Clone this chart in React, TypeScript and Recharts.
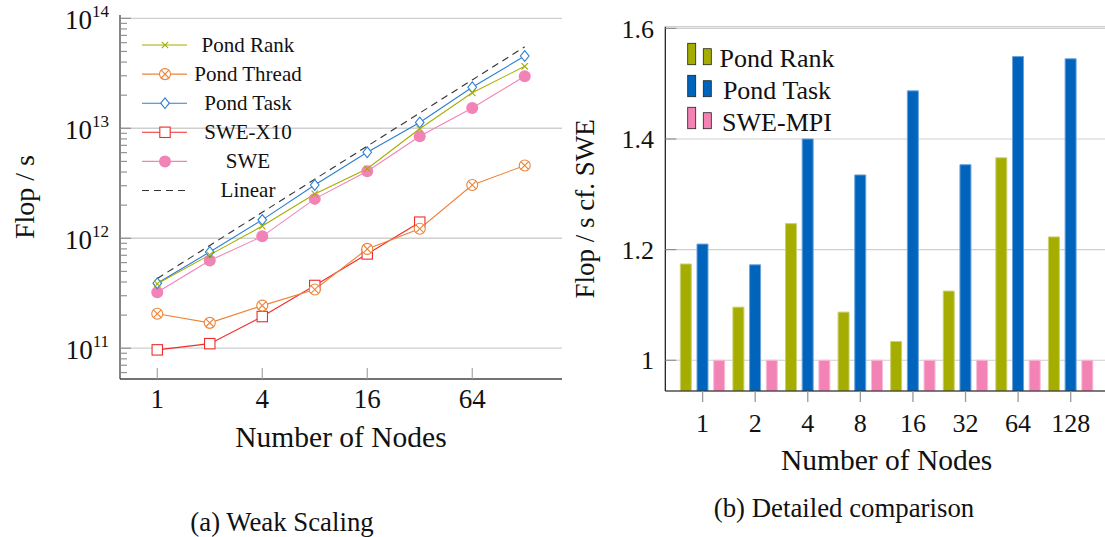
import React from "react";
import { LineChart, Line, BarChart, Bar, XAxis, YAxis, CartesianGrid, ReferenceLine, Legend } from "recharts";

const FONT = '"Liberation Serif", "DejaVu Serif", serif';
const INK = "#111";
const TICK_GREY = "#8a8a8a";
const GRID_GREY = "#cfcfcf";

// ---- (a) weak scaling, Flop/s vs node count ----
const nodes = [1, 2, 4, 8, 16, 32, 64, 128];
const pondRank = [3.85e11, 7.06e11, 1.29e12, 2.53e12, 4.28e12, 9.9e12, 2.1e13, 3.66e13];
const pondThread = [2.06e11, 1.7e11, 2.44e11, 3.42e11, 8.0e11, 1.22e12, 3.05e12, 4.58e12];
const pondTask = [3.9e11, 7.5e11, 1.47e12, 3.05e12, 6.05e12, 1.13e13, 2.36e13, 4.54e13];
const sweX10 = [9.66e10, 1.1e11, 1.94e11, 3.72e11, 7.2e11, 1.4e12];
const swe = [3.23e11, 6.27e11, 1.04e12, 2.28e12, 4.06e12, 8.45e12, 1.53e13, 2.97e13];
const linear = [4.3e11, 8.6e11, 1.72e12, 3.44e12, 6.88e12, 1.376e13, 2.752e13, 5.504e13];
const nodeTicks = [1, 4, 16, 64];
const decadeTicks = [1e11, 1e12, 1e13, 1e14];

// ---- (b) Flop/s relative to SWE ----
const nodeLabels = ["1", "2", "4", "8", "16", "32", "64", "128"];
const rankRatio = [1.174, 1.096, 1.247, 1.087, 1.034, 1.125, 1.366, 1.223];
const taskRatio = [1.21, 1.1725, 1.4, 1.335, 1.487, 1.3535, 1.549, 1.545];
const mpiRatio = [1, 1, 1, 1, 1, 1, 1, 1];
const ratioTicks = [1, 1.2, 1.4, 1.6];

const scalingRows = nodes.map((n, i) => ({
  nodes: n,
  pondRank: pondRank[i],
  pondThread: pondThread[i],
  pondTask: pondTask[i],
  sweX10: sweX10[i] ?? null,
  swe: swe[i],
  linear: linear[i],
}));

const ratioRows = nodeLabels.map((n, i) => ({ nodes: n, rank: rankRatio[i], task: taskRatio[i], mpi: mpiRatio[i] }));

const X_DOMAIN = [Math.pow(2, -0.71), Math.pow(2, 7.71)];
const Y_DOMAIN = [Math.pow(10, 10.72), Math.pow(10, 14.03)];
const RATIO_DOMAIN = [0.9444, 1.603];

// decade + minor ticks for the log axis
const logTicks: number[] = [];
for (let e = 10; e <= 14; e++) {
  for (let m = 1; m <= 9; m++) {
    const v = m * Math.pow(10, e);
    if (v >= Y_DOMAIN[0] && v <= Y_DOMAIN[1]) logTicks.push(v);
  }
}
const isDecade = (v: number) => Math.abs(Math.log10(v) - Math.round(Math.log10(v))) < 1e-9;

type MarkerKind = "cross" | "otimes" | "diamond" | "square" | "disc" | null;

const series: { key: string; name: string; color: string; marker: MarkerKind; dash?: string }[] = [
  { key: "pondRank", name: "Pond Rank", color: "#a6ae00", marker: "cross" },
  { key: "pondThread", name: "Pond Thread", color: "#ef8338", marker: "otimes" },
  { key: "pondTask", name: "Pond Task", color: "#2a7fd3", marker: "diamond" },
  { key: "sweX10", name: "SWE-X10", color: "#ee2c2c", marker: "square" },
  { key: "swe", name: "SWE", color: "#f283b6", marker: "disc" },
  { key: "linear", name: "Linear", color: "#333", marker: null, dash: "7 5" },
];

const barSeries = [
  { key: "rank", name: "Pond Rank", color: "#a4ad00", edge: "#cbd174" },
  { key: "task", name: "Pond Task", color: "#0064bd", edge: "#6aa3da" },
  { key: "mpi", name: "SWE-MPI", color: "#f283b4", edge: "#f8bcd7" },
];

function Marker({ kind, cx, cy, color }: { kind: MarkerKind; cx: number; cy: number; color: string }) {
  switch (kind) {
    case "cross":
      return (
        <g stroke={color} strokeWidth={1.1}>
          <line x1={cx - 3.2} y1={cy - 3.2} x2={cx + 3.2} y2={cy + 3.2} />
          <line x1={cx - 3.2} y1={cy + 3.2} x2={cx + 3.2} y2={cy - 3.2} />
        </g>
      );
    case "otimes": {
      const r = 5.5;
      const d = r * 0.707;
      return (
        <g stroke={color} strokeWidth={1.1}>
          <circle cx={cx} cy={cy} r={r} fill="#fff" />
          <line x1={cx - d} y1={cy - d} x2={cx + d} y2={cy + d} />
          <line x1={cx - d} y1={cy + d} x2={cx + d} y2={cy - d} />
        </g>
      );
    }
    case "diamond":
      return (
        <polygon
          points={`${cx},${cy - 5.3} ${cx + 4.3},${cy} ${cx},${cy + 5.3} ${cx - 4.3},${cy}`}
          fill="#fff"
          stroke={color}
          strokeWidth={1.1}
        />
      );
    case "square":
      return <rect x={cx - 5.2} y={cy - 5.2} width={10.4} height={10.4} fill="#fff" stroke={color} strokeWidth={1.1} />;
    case "disc":
      return <circle cx={cx} cy={cy} r={6} fill={color} />;
    default:
      return null;
  }
}

const Y_TICK_GAP = 11;
const X_TICK_GAP = 10;

// left axis: 10^n labels plus inward major/minor ticks
function PowerTick(props: any) {
  const { x, y, payload } = props;
  const v = payload.value as number;
  const major = isDecade(v);
  const edge = x + Y_TICK_GAP;
  return (
    <g>
      <line x1={edge} x2={edge + (major ? 11 : 7)} y1={y} y2={y} stroke={TICK_GREY} strokeWidth={1.1} />
      {major && (
        <text x={x} y={y + 10.6} textAnchor="end" fontSize={27} fill={INK}>
          10
          <tspan dy={-11.6} fontSize={17}>
            {Math.round(Math.log10(v))}
          </tspan>
        </text>
      )}
    </g>
  );
}

// right edge: inward ticks only
function MirrorLogTick(props: any) {
  const { x, y, payload } = props;
  const len = isDecade(payload.value) ? 11 : 7;
  return <line x1={x - len} x2={x} y1={y} y2={y} stroke={TICK_GREY} strokeWidth={1.1} />;
}

function NodeTick(props: any) {
  const { x, y, payload } = props;
  const base = y - X_TICK_GAP;
  return (
    <g>
      <line x1={x} x2={x} y1={base} y2={base - 11} stroke="#a0a0a0" strokeWidth={1.1} />
      <text x={x} y={y} dy="0.71em" textAnchor="middle" fontSize={27} fill={INK}>
        {payload.value}
      </text>
    </g>
  );
}

function RatioTick(props: any) {
  const { x, y, payload } = props;
  const edge = x + 11.3;
  return (
    <g>
      <line x1={edge} x2={edge + 11} y1={y} y2={y} stroke={TICK_GREY} strokeWidth={1.1} />
      <text x={x} y={y} dy="0.355em" textAnchor="end" fontSize={26} fill={INK}>
        {String(payload.value)}
      </text>
    </g>
  );
}

function ScalingLegend() {
  return (
    <svg width={210} height={180}>
      {series.map((s, i) => {
        const y = 15 + i * 29.1;
        return (
          <g key={s.key}>
            <line x1={7} x2={52} y1={y} y2={y} stroke={s.color} strokeWidth={1.1} strokeDasharray={s.dash} />
            {s.marker && <Marker kind={s.marker} cx={30} cy={y} color={s.color} />}
            <text x={113} y={y} dy="0.33em" textAnchor="middle" fontSize={21} fill={INK}>
              {s.name}
            </text>
          </g>
        );
      })}
    </svg>
  );
}

function CompareLegend() {
  return (
    <svg width={200} height={110}>
      {barSeries.map((s, i) => {
        const cy = 23.3 + i * 32;
        return (
          <g key={s.key}>
            <rect x={7.7} y={cy - 16} width={8} height={21.4} fill={s.color} stroke="#222" strokeWidth={0.8} />
            <rect x={23.3} y={cy - 10.6} width={8} height={16} fill={s.color} stroke="#222" strokeWidth={0.8} />
            <text x={97} y={cy} dy="0.3em" textAnchor="middle" fontSize={26} fill={INK}>
              {s.name}
            </text>
          </g>
        );
      })}
    </svg>
  );
}

function WeakScaling() {
  return (
    <LineChart width={580} height={537} data={scalingRows} margin={{ top: 15, right: 18, bottom: 88, left: 0 }}>
      {decadeTicks.map((d) => (
        <ReferenceLine key={d} y={d} stroke={GRID_GREY} strokeWidth={1.3} />
      ))}
      <XAxis
        dataKey="nodes"
        type="number"
        scale="log"
        domain={X_DOMAIN}
        allowDataOverflow
        ticks={nodeTicks}
        interval={0}
        height={70}
        tickSize={0}
        tickMargin={X_TICK_GAP}
        tickLine={false}
        tick={<NodeTick />}
        axisLine={{ stroke: "#444", strokeWidth: 1.3 }}
        label={{ value: "Number of Nodes", position: "insideTop", offset: 47.1, fontSize: 29.5, fill: INK }}
      />
      <XAxis
        xAxisId="top"
        orientation="top"
        mirror
        dataKey="nodes"
        type="number"
        scale="log"
        domain={X_DOMAIN}
        allowDataOverflow
        ticks={nodeTicks}
        interval={0}
        height={0}
        tickSize={11}
        tick={false}
        tickLine={{ stroke: "#a0a0a0", strokeWidth: 1.1 }}
        axisLine={{ stroke: "#444", strokeWidth: 1.3 }}
      />
      <YAxis
        type="number"
        scale="log"
        domain={Y_DOMAIN}
        allowDataOverflow
        ticks={logTicks}
        interval={0}
        width={120}
        tickSize={0}
        tickMargin={Y_TICK_GAP}
        tickLine={false}
        tick={<PowerTick />}
        axisLine={{ stroke: "#444", strokeWidth: 1.3 }}
        label={{ value: "Flop / s", angle: -90, position: "insideLeft", offset: 24, fontSize: 28, fill: INK, style: { textAnchor: "middle" } }}
      />
      <YAxis
        yAxisId="right"
        orientation="right"
        mirror
        type="number"
        scale="log"
        domain={Y_DOMAIN}
        allowDataOverflow
        ticks={logTicks}
        interval={0}
        width={0}
        tickSize={0}
        tickMargin={0}
        tickLine={false}
        tick={<MirrorLogTick />}
        axisLine={{ stroke: "#444", strokeWidth: 1.3 }}
      />
      {[...series].reverse().map((s) => (
        <Line
          key={s.key}
          dataKey={s.key}
          name={s.name}
          stroke={s.color}
          strokeWidth={1.1}
          strokeDasharray={s.dash}
          activeDot={false}
          isAnimationActive={false}
          dot={
            s.marker
              ? (p: any) =>
                  p.cx == null || p.cy == null || p.value == null ? (
                    <g key={p.index} />
                  ) : (
                    <Marker key={p.index} kind={s.marker} cx={p.cx} cy={p.cy} color={s.color} />
                  )
              : false
          }
        />
      ))}
      <Legend
        layout="vertical"
        align="center"
        verticalAlign="middle"
        wrapperStyle={{ left: 135, top: 30, width: 210, height: 180 }}
        content={() => <ScalingLegend />}
      />
    </LineChart>
  );
}

// right panel's svg starts at page x = 560 (overlaps the left svg's empty margin)
function Comparison() {
  return (
    <BarChart
      width={560}
      height={537}
      data={ratioRows}
      margin={{ top: 26.7, right: 12, bottom: 66, left: 0 }}
      barSize={11}
      barGap={5.7}
    >
      <CartesianGrid vertical={false} stroke={GRID_GREY} strokeWidth={1.2} />
      <XAxis
        dataKey="nodes"
        type="category"
        interval={0}
        height={80}
        padding={{ left: 11, right: 11 }}
        tickSize={11}
        tickMargin={12}
        tick={{ fontSize: 26, fill: INK }}
        tickLine={{ stroke: "#999", strokeWidth: 1.3 }}
        axisLine={{ stroke: INK, strokeWidth: 1.2 }}
        label={{ value: "Number of Nodes", position: "insideTop", offset: 57.8, fontSize: 29.5, fill: INK }}
      />
      <XAxis
        xAxisId="top"
        orientation="top"
        dataKey="nodes"
        type="category"
        scale="band"
        interval={0}
        height={0}
        padding={{ left: 11, right: 11 }}
        tickSize={11}
        tick={false}
        tickLine={{ stroke: "#999", strokeWidth: 1.3 }}
        axisLine={{ stroke: INK, strokeWidth: 1.2 }}
      />
      <YAxis
        type="number"
        domain={RATIO_DOMAIN}
        allowDataOverflow
        ticks={ratioTicks}
        interval={0}
        width={105.3}
        tickSize={0}
        tickMargin={11.3}
        tickLine={false}
        tick={<RatioTick />}
        axisLine={{ stroke: INK, strokeWidth: 1.2 }}
        label={{ value: "Flop / s cf. SWE", angle: -90, position: "insideLeft", offset: 24.3, fontSize: 27, fill: INK, style: { textAnchor: "middle" } }}
      />
      <YAxis
        yAxisId="right"
        orientation="right"
        mirror
        type="number"
        domain={RATIO_DOMAIN}
        allowDataOverflow
        ticks={ratioTicks}
        interval={0}
        width={0}
        tickSize={11}
        tick={false}
        tickLine={{ stroke: TICK_GREY, strokeWidth: 1.1 }}
        axisLine={{ stroke: INK, strokeWidth: 1.2 }}
      />
      {barSeries.map((s) => (
        <Bar key={s.key} dataKey={s.key} name={s.name} fill={s.color} stroke={s.edge} strokeWidth={1} isAnimationActive={false} />
      ))}
      <Legend
        layout="vertical"
        align="center"
        verticalAlign="middle"
        wrapperStyle={{ left: 120, top: 36, width: 200, height: 110 }}
        content={() => <CompareLegend />}
      />
    </BarChart>
  );
}

const caption = (cx: number, cy: number): React.CSSProperties => ({
  position: "absolute",
  left: cx - 200,
  top: cy - 16,
  width: 400,
  lineHeight: "32px",
  textAlign: "center",
  fontSize: 26.8,
  color: INK,
});

export default function App() {
  return (
    <div
      style={{
        position: "absolute",
        left: 0,
        top: 0,
        width: 1105,
        height: 537,
        overflow: "hidden",
        background: "#fff",
        fontFamily: FONT,
      }}
    >
      <style>{`svg text, svg tspan { font-family: ${FONT} !important; }`}</style>
      <div style={{ position: "absolute", left: 0, top: 0 }}>
        <WeakScaling />
      </div>
      <div style={{ position: "absolute", left: 560, top: 0 }}>
        <Comparison />
      </div>
      <div style={caption(282, 521.7)}>(a) Weak Scaling</div>
      <div style={caption(844, 508)}>(b) Detailed comparison</div>
    </div>
  );
}
